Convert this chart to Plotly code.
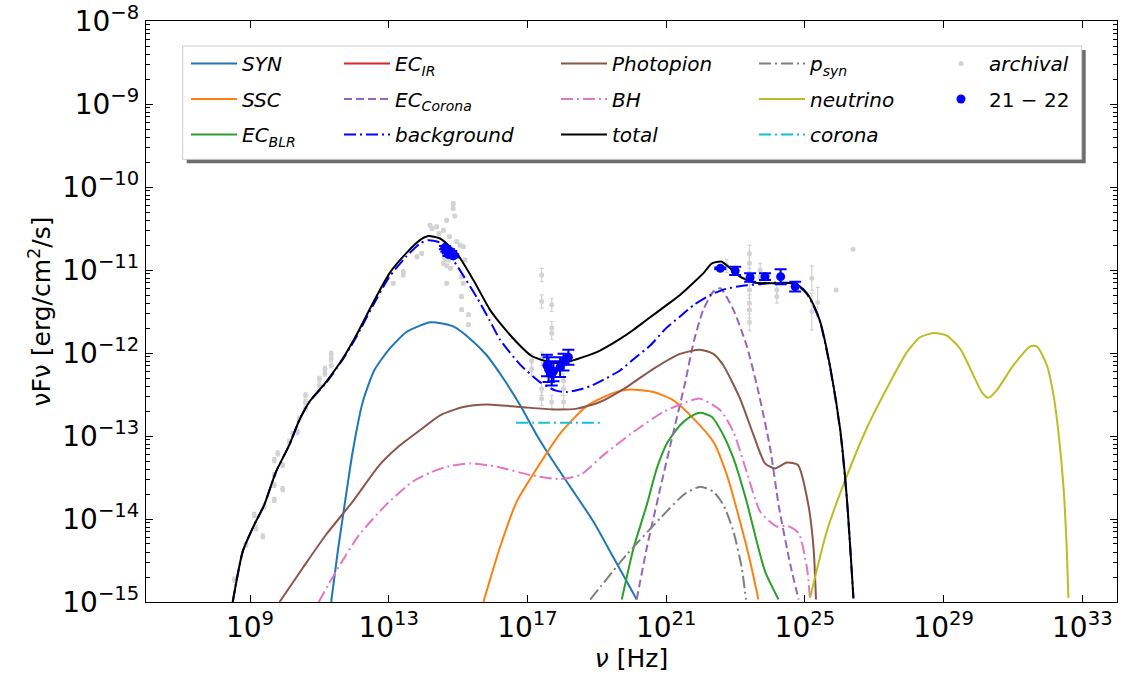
import plotly.graph_objects as go

# ---------------- data: log10(nu [Hz]) , log10(nuFnu [erg/cm2/s]) ----------------
total_x = [8.50, 8.79, 9.12, 9.41, 9.75, 10.13, 10.42, 10.71, 11.19, 11.67, 12.06, 12.54, 13.02, 13.50,
           13.90, 14.14, 14.48, 14.96, 15.44, 15.92, 16.21, 16.69, 17.10, 17.46, 17.80, 18.13, 18.60,
           19.09, 19.67, 20.06, 20.44, 21.02, 21.40, 21.69, 22.07, 22.32, 22.60, 22.85, 23.13, 23.52,
           24.19, 24.67, 24.86, 25.06, 25.25, 25.44, 25.73, 26.02, 26.21, 26.40]
total_y = [-15.0, -14.39, -14.07, -13.83, -13.43, -13.11, -12.81, -12.59, -12.35, -12.07, -11.79, -11.40,
           -11.04, -10.80, -10.64, -10.59, -10.62, -10.80, -11.12, -11.48, -11.64, -11.87, -12.03, -12.09,
           -12.12, -12.11, -12.05, -11.97, -11.83, -11.72, -11.60, -11.42, -11.30, -11.19, -11.04, -10.92,
           -10.90, -10.98, -11.08, -11.15, -11.16, -11.16, -11.20, -11.28, -11.42, -11.62, -12.17, -12.93,
           -13.75, -14.95]

bkg_x = [8.50, 8.79, 9.12, 9.41, 9.75, 10.13, 10.42, 10.71, 11.19, 11.67, 12.06, 12.54, 13.02, 13.50,
         13.90, 14.14, 14.48, 14.86, 15.20, 15.54, 15.90, 16.21, 16.79, 17.36, 17.80, 18.13, 18.50,
         18.81, 19.20, 19.67, 20.10, 20.54, 21.00, 21.40, 21.80, 22.27, 22.70, 23.20, 23.71, 24.20,
         24.60, 24.86, 25.06, 25.25, 25.44, 25.73, 26.02, 26.21, 26.40]
bkg_y = [-15.0, -14.39, -14.07, -13.83, -13.43, -13.11, -12.81, -12.59, -12.36, -12.08, -11.81, -11.43,
         -11.08, -10.84, -10.68, -10.64, -10.67, -10.88, -11.10, -11.33, -11.60, -11.84, -12.14, -12.35,
         -12.45, -12.47, -12.44, -12.40, -12.32, -12.21, -12.06, -11.91, -11.70, -11.56, -11.42, -11.30,
         -11.23, -11.19, -11.17, -11.15, -11.16, -11.21, -11.29, -11.43, -11.63, -12.18, -12.94, -13.76,
         -14.96]

syn_x = [11.34, 11.53, 11.67, 11.96, 12.25, 12.58, 13.02, 13.50, 13.90, 14.20, 14.50, 14.86, 15.35,
         15.83, 16.31, 16.79, 17.27, 17.75, 18.23, 18.90, 19.50, 20.15]
syn_y = [-15.0, -14.39, -13.99, -13.19, -12.59, -12.21, -11.95, -11.75, -11.67, -11.63, -11.64, -11.68,
         -11.83, -12.03, -12.31, -12.63, -12.99, -13.31, -13.61, -14.03, -14.48, -14.97]

ssc_x = [15.73, 16.20, 16.69, 17.27, 17.94, 18.71, 19.48, 19.96, 20.63, 21.21, 21.79, 22.36, 22.75,
         23.13, 23.42, 23.66]
ssc_y = [-15.0, -14.35, -13.79, -13.39, -12.97, -12.64, -12.48, -12.44, -12.47, -12.57, -12.79, -13.07,
         -13.47, -14.03, -14.51, -14.97]

blr_x = [19.72, 20.06, 20.44, 20.73, 21.02, 21.40, 21.69, 21.98, 22.32, 22.65, 22.94, 23.32, 23.61,
         23.85, 24.24]
blr_y = [-14.97, -14.35, -13.83, -13.39, -13.09, -12.87, -12.77, -12.72, -12.77, -12.99, -13.27, -13.79,
         -14.27, -14.63, -14.97]

# EC_IR lies entirely below the plotted range (legend entry only)
ecir_x = [None]
ecir_y = [None]

ecc_x = [20.15, 20.44, 20.83, 21.21, 21.55, 21.79, 22.07, 22.36, 22.56, 22.94, 23.32, 23.65, 24.00,
         24.25, 24.58, 24.82]
ecc_y = [-14.97, -14.35, -13.63, -12.95, -12.35, -11.87, -11.48, -11.26, -11.22, -11.48, -11.91, -12.45,
         -13.15, -13.85, -14.55, -14.97]

pp_x = [9.85, 10.52, 11.19, 11.96, 12.73, 13.30, 13.90, 14.48, 15.15, 15.83, 16.79, 17.75, 18.42,
        19.09, 19.86, 20.63, 21.40, 21.98, 22.36, 22.65, 23.13, 23.52, 23.85, 24.14, 24.48, 24.80,
        25.10, 25.25, 25.32]
pp_y = [-15.0, -14.59, -14.19, -13.79, -13.35, -13.12, -12.93, -12.75, -12.65, -12.62, -12.65, -12.68,
        -12.67, -12.59, -12.41, -12.19, -12.01, -11.96, -12.01, -12.15, -12.55, -12.99, -13.33, -13.39,
        -13.32, -13.35, -13.83, -14.35, -14.97]

bh_x = [10.98, 11.48, 12.15, 12.92, 13.69, 14.20, 14.67, 15.35, 16.12, 17.08, 17.94, 18.52, 19.19,
        20.06, 20.92, 21.59, 21.98, 22.56, 22.94, 23.32, 23.71, 24.19, 24.48, 24.82, 25.06, 25.15]
bh_y = [-15.0, -14.63, -14.19, -13.83, -13.55, -13.44, -13.37, -13.33, -13.37, -13.47, -13.52, -13.47,
        -13.23, -12.95, -12.71, -12.59, -12.55, -12.69, -12.95, -13.43, -13.91, -14.09, -14.08, -14.17,
        -14.59, -14.97]

psyn_x = [18.81, 19.86, 20.83, 21.50, 21.98, 22.36, 22.65, 22.94, 23.18, 23.30]
psyn_y = [-14.97, -14.43, -13.99, -13.71, -13.61, -13.67, -13.83, -14.15, -14.59, -14.97]

neu_x = [25.15, 25.63, 26.11, 26.78, 27.46, 27.94, 28.32, 28.71, 29.09, 29.48, 29.86, 30.10, 30.29,
         30.53, 31.01, 31.50, 31.69, 31.98, 32.17, 32.31, 32.46, 32.55, 32.60]
neu_y = [-14.95, -14.15, -13.59, -12.91, -12.35, -11.99, -11.81, -11.76, -11.79, -11.95, -12.27, -12.47,
         -12.54, -12.45, -12.15, -11.92, -11.92, -12.15, -12.51, -12.95, -13.63, -14.35, -14.95]

cor_x = [16.67, 17.50, 18.30, 19.17]
cor_y = [-12.84, -12.84, -12.84, -12.84]

# archival data (log nu, log nuFnu, error in dex)
arch_x = [8.55, 8.88, 9.12, 9.17, 9.37, 9.41, 9.70, 9.70, 9.70, 9.70, 9.80, 9.94, 9.94, 10.13, 10.23,
          10.37, 10.42, 10.60, 10.60, 10.60, 11.00, 11.00, 11.16, 11.16, 11.34, 11.34, 11.34,
          13.13, 13.42, 13.42, 13.81, 13.95, 14.19, 14.25, 14.38, 14.45, 14.58, 14.67, 14.75, 14.86,
          14.86, 14.90, 14.96, 15.05, 15.15, 14.58, 14.62, 14.67, 14.72, 14.67, 14.78, 15.10, 15.15,
          15.20, 15.10, 15.10, 15.30, 15.30,
          17.12, 17.12, 17.41, 17.41, 17.41, 17.41, 17.41, 17.70, 17.70, 17.70, 17.70, 18.04, 18.04,
          18.04,
          22.75, 23.40, 23.40, 23.40, 23.40, 23.40, 23.40, 23.40, 23.71, 23.71, 24.19, 24.19, 25.20,
          25.20, 25.37, 25.90, 26.39]
arch_y = [-14.73, -14.31, -13.95, -14.11, -14.21, -13.85, -13.77, -13.59, -13.47, -13.29, -13.21,
          -13.35, -13.64, -13.07, -12.97, -12.95, -12.79, -12.67, -12.59, -12.51, -12.39, -12.31,
          -12.25, -12.19, -12.15, -12.07, -12.01,
          -11.16, -11.02, -11.06, -10.84, -10.80, -10.46, -10.50, -10.48, -10.56, -10.52, -10.40,
          -10.60, -10.20, -10.26, -10.35, -10.66, -10.70, -10.72, -10.92, -10.86, -10.95, -10.88,
          -11.16, -10.98, -11.08, -11.16, -10.88, -11.32, -11.48, -11.54, -11.66,
          -12.09, -12.20, -11.06, -11.38, -12.07, -12.43, -12.55, -11.42, -11.70, -11.76, -12.59,
          -12.43, -12.59, -12.33,
          -10.95, -10.80, -10.92, -11.08, -11.24, -11.40, -11.48, -11.63, -11.00, -11.08, -11.24,
          -11.32, -11.10, -11.50, -11.39, -11.24, -10.75]
arch_err = [0.03] * 27 + [0.02] * 31 + [0.08] * 14 + [0.08, 0.10, 0.10, 0.10, 0.10, 0.10, 0.10, 0.10,
                                                      0.08, 0.08, 0.08, 0.08, 0.15, 0.22, 0.18, 0.0, 0.0]

# 2021-2022 data
cam_x = [14.62, 14.66, 14.70, 14.74, 14.78, 14.82, 14.86, 14.72, 14.80,
         17.56, 17.61, 17.70, 17.75, 17.94, 18.04, 18.18,
         22.56, 22.99, 23.42, 23.85, 24.30, 24.72]
cam_y = [-10.73, -10.76, -10.78, -10.77, -10.80, -10.82, -10.83, -10.81, -10.79,
         -12.15, -12.20, -12.25, -12.22, -12.17, -12.11, -12.05,
         -10.98, -11.01, -11.09, -11.08, -11.08, -11.20]
cam_err = [0.02] * 9 + [0.13, 0.15, 0.14, 0.12, 0.12, 0.10, 0.09,
                        0.01, 0.05, 0.05, 0.04, 0.09, 0.06]

xtick_exp = [9, 13, 17, 21, 25, 29, 33]
ytick_exp = [-15, -14, -13, -12, -11, -10, -9, -8]

# ---------------- figure ----------------
FONT = "DejaVu Sans"
W, H = 1123, 681
ML, MR, MT, MB = 146, 6, 21, 79
PW, PH = W - ML - MR, H - MT - MB


def px_x(px):
    return (px - ML) / PW


def px_y(py):
    return 1 - (py - MT) / PH


def p10(v):
    return [None if a is None else 10.0 ** a for a in v]


fig = go.Figure()

# archival
fig.add_trace(go.Scatter(
    x=p10(arch_x), y=p10(arch_y), mode="markers", name="<i>archival</i>",
    marker=dict(color="#d3d3d3", size=5),
    error_y=dict(type="data", symmetric=False,
                 array=[10.0 ** (y + e) - 10.0 ** y for y, e in zip(arch_y, arch_err)],
                 arrayminus=[10.0 ** y - 10.0 ** (y - e) for y, e in zip(arch_y, arch_err)],
                 color="#d3d3d3", thickness=1.2, width=2),
    legend="legend5", legendgroup="arch", legendrank=1))

DASH = "8px,4px"
DASHDOT = "12px,4px,2px,4px"

curves = [
    ("<i>SYN</i>", syn_x, syn_y, "#1f77b4", "solid", "legend", 1),
    ("<i>SSC</i>", ssc_x, ssc_y, "#ff7f0e", "solid", "legend", 2),
    ("<i>EC<sub>BLR</sub></i>", blr_x, blr_y, "#2ca02c", "solid", "legend", 3),
    ("<i>EC<sub>IR</sub></i>", ecir_x, ecir_y, "#d62728", "solid", "legend2", 1),
    ("<i>EC<sub>Corona</sub></i>", ecc_x, ecc_y, "#9467bd", DASH, "legend2", 2),
    ("<i>Photopion</i>", pp_x, pp_y, "#8c564b", "solid", "legend3", 1),
    ("<i>BH</i>", bh_x, bh_y, "#e377c2", DASHDOT, "legend3", 2),
    ("<i>p<sub>syn</sub></i>", psyn_x, psyn_y, "#7f7f7f", DASHDOT, "legend4", 1),
    ("<i>neutrino</i>", neu_x, neu_y, "#bcbd22", "solid", "legend4", 2),
    ("<i>corona</i>", cor_x, cor_y, "#17becf", DASHDOT, "legend4", 3),
    ("<i>background</i>", bkg_x, bkg_y, "#0000ff", DASHDOT, "legend2", 3),
    ("<i>total</i>", total_x, total_y, "#000000", "solid", "legend3", 3),
]
for name, xs, ys, col, dash, leg, rank in curves:
    fig.add_trace(go.Scatter(
        x=p10(xs), y=p10(ys), mode="lines", name=name,
        line=dict(color=col, width=2, dash=dash, shape="spline", smoothing=0.6),
        legend=leg, legendgroup=name, legendrank=rank))

fig.add_trace(go.Scatter(
    x=p10(cam_x), y=p10(cam_y), mode="markers", name="21 − 22",
    marker=dict(color="#0000ff", size=9),
    error_y=dict(type="data", symmetric=False,
                 array=[10.0 ** (y + e) - 10.0 ** y for y, e in zip(cam_y, cam_err)],
                 arrayminus=[10.0 ** y - 10.0 ** (y - e) for y, e in zip(cam_y, cam_err)],
                 color="#0000ff", thickness=2, width=6),
    legend="legend5", legendgroup="cam", legendrank=2))

# legend frame (matplotlib style box with shadow)
bx0, bx1, by0, by1 = 182.7, 1081.7, 46, 159.3
fig.add_shape(type="rect", xref="paper", yref="paper",
              x0=px_x(bx0 + 4), x1=px_x(bx1 + 4), y0=px_y(by1 + 4), y1=px_y(by0 + 4),
              line=dict(width=0), fillcolor="rgba(60,60,60,0.75)", layer="above")
fig.add_shape(type="rect", xref="paper", yref="paper",
              x0=px_x(bx0), x1=px_x(bx1), y0=px_y(by1), y1=px_y(by0),
              line=dict(width=1, color="#cccccc"), fillcolor="white", layer="above")

leg_common = dict(bgcolor="rgba(0,0,0,0)", borderwidth=0, font=dict(family=FONT, size=20, color="black"),
                  orientation="v", xanchor="left", yanchor="top", tracegroupgap=6.5, itemwidth=46,
                  y=px_y(44))
col_left = [186, 339, 556, 754, 933]
layout_leg = {}
for i, cx in enumerate(col_left):
    key = "legend" if i == 0 else f"legend{i + 1}"
    layout_leg[key] = dict(leg_common, x=px_x(cx))

axis_common = dict(type="log", showline=True, linecolor="black", linewidth=1.3, mirror="allticks",
                   ticks="inside", ticklen=7, tickwidth=1.2, tickcolor="black", showgrid=False,
                   zeroline=False, tickfont=dict(family=FONT, size=28, color="black"),
                   ticklabeloverflow="allow",
                   title_font=dict(family=FONT, size=25, color="black"))

fig.update_layout(
    width=W, height=H, margin=dict(l=ML, r=MR, t=MT, b=MB, autoexpand=False),
    paper_bgcolor="white", plot_bgcolor="white",
    font=dict(family=FONT, color="black"),
    xaxis=dict(axis_common, range=[6, 34], tickmode="array",
               tickvals=[10.0 ** e for e in xtick_exp],
               ticktext=[f"10<sup>{e}</sup>" for e in xtick_exp],
               title=dict(text="<i>ν</i> [Hz]", standoff=6)),
    yaxis=dict(axis_common, range=[-15, -7.9995], tickmode="array",
               tickvals=[10.0 ** e for e in ytick_exp],
               ticktext=[f"10<sup>{'−' + str(-e) if e < 0 else e}</sup>" for e in ytick_exp],
               minor=dict(ticks="inside", ticklen=4, tickwidth=1, tickcolor="black", dtick="D1",
                          showgrid=False),
               title=dict(text="νFν [erg/cm<sup>2</sup>/s]", standoff=4)),
    **layout_leg,
)

fig.write_html("out.html", config={"displayModeBar": False})
